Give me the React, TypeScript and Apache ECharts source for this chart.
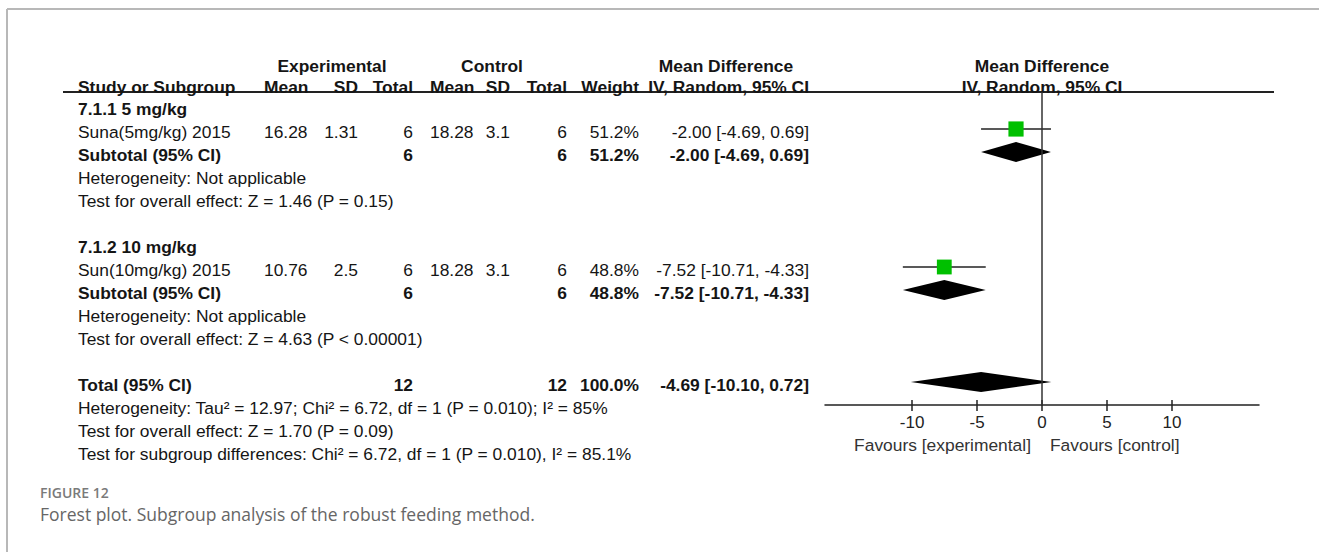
import React, { useEffect, useRef } from "react";
import * as echarts from "echarts";

// ---- data ----
const subgroupNames = ["7.1.1 5 mg/kg", "7.1.2 10 mg/kg"];
const studyNames = ["Suna(5mg/kg) 2015", "Sun(10mg/kg) 2015"];
const expMean = [16.28, 10.76];
const expSD = [1.31, 2.5];
const expN = [6, 6];
const ctrlMean = [18.28, 18.28];
const ctrlSD = [3.1, 3.1];
const ctrlN = [6, 6];
const studyWeight = [51.2, 48.8];
const studyMD = [-2.0, -7.52];
const studyLow = [-4.69, -10.71];
const studyHigh = [0.69, -4.33];
const subtotalMD = [-2.0, -7.52];
const subtotalLow = [-4.69, -10.71];
const subtotalHigh = [0.69, -4.33];
const subgroupHet = ["Heterogeneity: Not applicable", "Heterogeneity: Not applicable"];
const subgroupTest = [
  "Test for overall effect: Z = 1.46 (P = 0.15)",
  "Test for overall effect: Z = 4.63 (P < 0.00001)",
];
const totalExpN = 12;
const totalCtrlN = 12;
const totalWeight = 100.0;
const totalMD = -4.69;
const totalLow = -10.1;
const totalHigh = 0.72;
const totalNotes = [
  "Heterogeneity: Tau\u00b2 = 12.97; Chi\u00b2 = 6.72, df = 1 (P = 0.010); I\u00b2 = 85%",
  "Test for overall effect: Z = 1.70 (P = 0.09)",
  "Test for subgroup differences: Chi\u00b2 = 6.72, df = 1 (P = 0.010), I\u00b2 = 85.1%",
];
const xTicks = [-10, -5, 0, 5, 10];
const xMin = -16.7;
const xMax = 16.7;

const FONT = '"Liberation Sans", Arial, sans-serif';
const FS = 17.4;
const TXT = "#151515";

function fmtCI(m: number, lo: number, hi: number) {
  return `${m.toFixed(2)} [${lo.toFixed(2)}, ${hi.toFixed(2)}]`;
}

export default function App() {
  const ref = useRef<HTMLDivElement>(null);
  useEffect(() => {
    if (!ref.current) return;
    const chart = echarts.init(ref.current, undefined, { renderer: "svg" });

    const rowY = (r: number) => 109 + 23 * r;
    const texts: any[] = [];
    const t = (
      text: string,
      x: number,
      y: number,
      align: string,
      bold = false,
      extra: any = {}
    ) => {
      texts.push({
        type: "text",
        x,
        y,
        silent: true,
        style: {
          text,
          font: `${bold ? "bold " : ""}${FS}px ${FONT}`,
          fill: TXT,
          align,
          textAlign: align,
          verticalAlign: "middle",
          textVerticalAlign: "middle",
          ...extra,
        },
      });
    };

    // headers
    const h1 = 66;
    t("Experimental", 332, h1, "center", true);
    t("Control", 492, h1, "center", true);
    t("Mean Difference", 726, h1, "center", true);
    t("Mean Difference", 1042, h1, "center", true);
    const hy = 87;
    t("Study or Subgroup", 78, hy, "left", true);
    t("Mean", 264, hy, "left", true);
    t("SD", 358, hy, "right", true);
    t("Total", 413, hy, "right", true);
    t("Mean", 430, hy, "left", true);
    t("SD", 510, hy, "right", true);
    t("Total", 567, hy, "right", true);
    t("Weight", 639, hy, "right", true);
    t("IV, Random, 95% CI", 809, hy, "right", true);
    t("IV, Random, 95% CI", 1042, hy, "center", true);

    const marks: any[] = [];
    subgroupNames.forEach((name, g) => {
      const base = g * 6;
      t(name, 78, rowY(base), "left", true);
      const r1 = rowY(base + 1);
      t(studyNames[g], 78, r1, "left");
      t(String(expMean[g]), 264, r1, "left");
      t(String(expSD[g]), 358, r1, "right");
      t(String(expN[g]), 413, r1, "right");
      t(String(ctrlMean[g]), 430, r1, "left");
      t(String(ctrlSD[g]), 510, r1, "right");
      t(String(ctrlN[g]), 567, r1, "right");
      t(studyWeight[g].toFixed(1) + "%", 639, r1, "right");
      t(fmtCI(studyMD[g], studyLow[g], studyHigh[g]), 809, r1, "right");
      const r2 = rowY(base + 2);
      t("Subtotal (95% CI)", 78, r2, "left", true);
      t(String(expN[g]), 413, r2, "right", true);
      t(String(ctrlN[g]), 567, r2, "right", true);
      t(studyWeight[g].toFixed(1) + "%", 639, r2, "right", true);
      t(fmtCI(subtotalMD[g], subtotalLow[g], subtotalHigh[g]), 809, r2, "right", true);
      t(subgroupHet[g], 78, rowY(base + 3), "left");
      t(subgroupTest[g], 78, rowY(base + 4), "left");
      marks.push([base + 1, studyMD[g], studyLow[g], studyHigh[g], 0, studyWeight[g]]);
      marks.push([base + 2, subtotalMD[g], subtotalLow[g], subtotalHigh[g], 1, studyWeight[g]]);
    });
    const rt = rowY(12);
    t("Total (95% CI)", 78, rt, "left", true);
    t(String(totalExpN), 413, rt, "right", true);
    t(String(totalCtrlN), 567, rt, "right", true);
    t(totalWeight.toFixed(1) + "%", 639, rt, "right", true);
    t(fmtCI(totalMD, totalLow, totalHigh), 809, rt, "right", true);
    totalNotes.forEach((n, i) => t(n, 78, rowY(13 + i), "left"));
    marks.push([12, totalMD, totalLow, totalHigh, 1, totalWeight]);

    // favours labels
    t("Favours [experimental]", 1031, 445, "right", false, { fill: "#333" });
    t("Favours [control]", 1050, 445, "left", false, { fill: "#333" });

    // caption
    texts.push({
      type: "text",
      x: 40,
      y: 492,
      silent: true,
      style: {
        text: "FIGURE 12",
        font: '600 14px "Open Sans", sans-serif',
        fill: "#7a7a7a",
        align: "left",
        verticalAlign: "middle",
        textAlign: "left",
        textVerticalAlign: "middle",
      },
    });
    texts.push({
      type: "text",
      x: 40,
      y: 514,
      silent: true,
      style: {
        text: "Forest plot. Subgroup analysis of the robust feeding method.",
        font: '17.5px "Open Sans", sans-serif',
        fill: "#666",
        align: "left",
        verticalAlign: "middle",
        textAlign: "left",
        textVerticalAlign: "middle",
      },
    });

    const lines = [
      { type: "line", shape: { x1: 63, y1: 92, x2: 1274, y2: 92 }, style: { stroke: "#222", lineWidth: 2 } },
      { type: "line", shape: { x1: 7, y1: 9, x2: 1319, y2: 9 }, style: { stroke: "#b8b8b8", lineWidth: 2 } },
      { type: "line", shape: { x1: 7, y1: 9, x2: 7, y2: 552 }, style: { stroke: "#b8b8b8", lineWidth: 2 } },
    ];

    const option: any = {
      animation: false,
      backgroundColor: "#fff",
      grid: { left: 825, width: 434, top: 92, height: 313, containLabel: false },
      xAxis: [
        {
          type: "value",
          min: xMin,
          max: xMax,
          position: "bottom",
          axisLine: { show: true, onZero: false, lineStyle: { color: "#222", width: 1.5 } },
          axisTick: { show: true, customValues: xTicks, length: 6, lineStyle: { color: "#222", width: 1.5 } },
          axisLabel: {
            show: true,
            customValues: xTicks,
            margin: 9,
            fontSize: 17,
            fontFamily: FONT,
            color: "#222",
          },
          splitLine: { show: false },
        },
        {
          type: "value",
          min: xMin,
          max: xMax,
          position: "bottom",
          axisLine: { show: false, onZero: false },
          axisTick: { show: true, inside: true, customValues: xTicks, length: 5, lineStyle: { color: "#222", width: 1.5 } },
          axisLabel: { show: false },
          splitLine: { show: false },
        },
      ],
      yAxis: { type: "value", min: -14 / 23, max: 13, inverse: true, show: false },
      graphic: [...lines, ...texts],
      series: [
        {
          type: "custom",
          xAxisIndex: 0,
          clip: false,
          encode: { x: [1, 2, 3], y: 0 },
          data: marks,
          renderItem: (params: any, api: any) => {
            const row = api.value(0);
            const m = api.value(1);
            const lo = api.value(2);
            const hi = api.value(3);
            const kind = api.value(4);
            const w = api.value(5);
            const c = api.coord([m, row]);
            const l = api.coord([lo, row]);
            const h = api.coord([hi, row]);
            if (kind === 0) {
              const s = 15 * Math.sqrt(w / 50);
              return {
                type: "group",
                children: [
                  {
                    type: "line",
                    shape: { x1: l[0], y1: c[1], x2: h[0], y2: c[1] },
                    style: { stroke: "#222", lineWidth: 1.4 },
                  },
                  {
                    type: "rect",
                    shape: { x: c[0] - s / 2, y: c[1] - s / 2, width: s, height: s },
                    style: { fill: "#00c000" },
                  },
                ],
              };
            }
            return {
              type: "polygon",
              shape: {
                points: [
                  [l[0], c[1]],
                  [c[0], c[1] - 10],
                  [h[0], c[1]],
                  [c[0], c[1] + 10],
                ],
              },
              style: { fill: "#000" },
            };
          },
          markLine: {
            silent: true,
            symbol: "none",
            label: { show: false },
            lineStyle: { color: "#333", width: 1.5, type: "solid" },
            data: [{ xAxis: 0 }],
          },
        },
      ],
    };
    chart.setOption(option);
    return () => chart.dispose();
  }, []);

  return (
    <div
      ref={ref}
      style={{ position: "absolute", left: 0, top: 0, width: 1319, height: 552, background: "#fff" }}
    />
  );
}
